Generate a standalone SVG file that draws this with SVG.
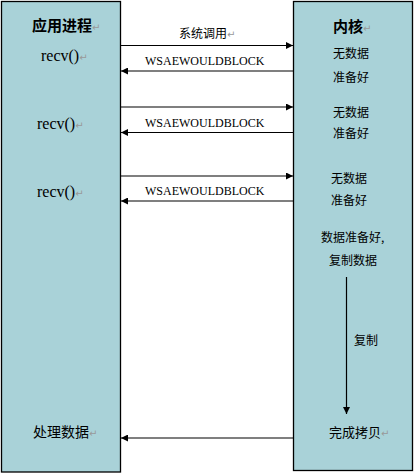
<svg xmlns="http://www.w3.org/2000/svg" width="416" height="475" viewBox="0 0 416 475">
<defs>
<marker id="ah" viewBox="0 0 10 10" refX="10" refY="5" markerWidth="8" markerHeight="7" markerUnits="userSpaceOnUse" orient="auto">
<path d="M0,0 L10,5 L0,10 z" fill="#000"/>
</marker>
<style>
.box{fill:#A9D2D8;stroke:#000;stroke-width:1.3}
.cn{font-family:"Noto Sans CJK SC","DejaVu Sans",sans-serif;font-size:12px;fill:#000}
.tt{font-family:"Noto Sans CJK SC","DejaVu Sans",sans-serif;font-size:15px;font-weight:bold;fill:#000}
.en{font-family:"Liberation Serif","Times New Roman",serif;font-size:12px;fill:#000}
.fn{font-family:"Liberation Serif",serif;font-size:16px;fill:#000}
.pm{font-family:"DejaVu Sans",sans-serif;font-size:10px;fill:#999;font-weight:normal}
.ln{stroke:#000;stroke-width:1.2;fill:none;marker-end:url(#ah)}
</style>
</defs>
<g id="app">
<rect class="box" x="1.5" y="1.5" width="119" height="470.5"/>
<text class="tt" x="32" y="31">应用进程<tspan class="pm">↵</tspan></text>
<text class="fn" x="41" y="60.5">recv()<tspan class="pm">↵</tspan></text>
<text class="fn" x="37" y="128.5">recv()<tspan class="pm">↵</tspan></text>
<text class="fn" x="37" y="197">recv()<tspan class="pm">↵</tspan></text>
<text class="cn" x="33" y="437" style="font-size:14px">处理数据<tspan class="pm">↵</tspan></text>
</g>
<g id="kernel">
<rect class="box" x="293.5" y="1.5" width="119" height="469"/>
<text class="tt" x="333" y="32">内核<tspan class="pm">↵</tspan></text>
<text class="cn" x="333" y="57.5">无数据</text>
<text class="cn" x="333" y="81.5">准备好</text>
<text class="cn" x="333" y="116.5">无数据</text>
<text class="cn" x="333" y="137.5">准备好</text>
<text class="cn" x="331" y="182.5">无数据</text>
<text class="cn" x="331" y="204.5">准备好</text>
<text class="cn" x="321" y="241.5">数据准备好,</text>
<text class="cn" x="329" y="264.5">复制数据</text>
<text class="cn" x="354" y="344.5">复制</text>
<text class="cn" x="329" y="436.5" style="font-size:13px">完成拷贝<tspan class="pm">↵</tspan></text>
</g>
<g id="connectors">
<line class="ln" x1="121" y1="45.5" x2="293" y2="45.5"/>
<line class="ln" x1="293" y1="71" x2="121" y2="71"/>
<line class="ln" x1="121" y1="107" x2="293" y2="107"/>
<line class="ln" x1="293" y1="132.5" x2="121" y2="132.5"/>
<line class="ln" x1="121" y1="176" x2="293" y2="176"/>
<line class="ln" x1="293" y1="201" x2="121" y2="201"/>
<line class="ln" x1="293" y1="438" x2="121" y2="438"/>
<line class="ln" x1="346.5" y1="277" x2="346.5" y2="414"/>
<text class="cn" x="179" y="37.5">系统调用<tspan class="pm">↵</tspan></text>
<text class="en" x="145" y="65">WSAEWOULDBLOCK</text>
<text class="en" x="145" y="126.5">WSAEWOULDBLOCK</text>
<text class="en" x="145" y="195">WSAEWOULDBLOCK</text>
</g>
</svg>
